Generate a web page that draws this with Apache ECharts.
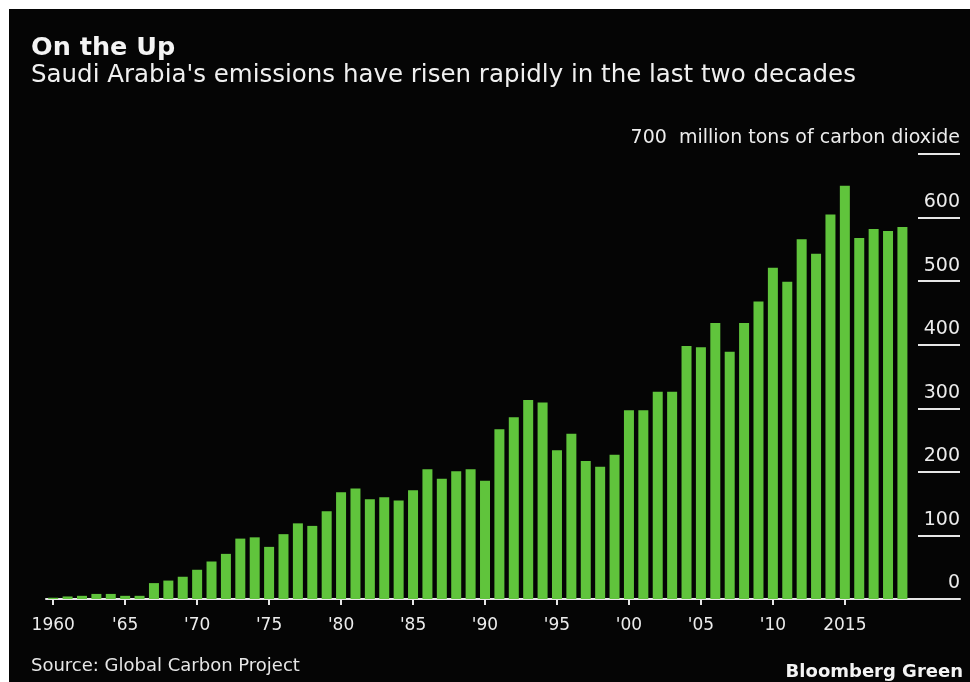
<!DOCTYPE html>
<html>
<head>
<meta charset="utf-8">
<script src="https://cdn.jsdelivr.net/npm/echarts@6/dist/echarts.min.js"></script>
<style>
  html, body { margin: 0; padding: 0; background: #ffffff; width: 970px; height: 682px; overflow: hidden; }
  #chart { position: absolute; left: 9px; top: 9px; width: 961px; height: 673px; background: #050505; }
</style>
</head>
<body>
<div id="chart"></div>
<script>
// ---- data ----
var years = [1960,1961,1962,1963,1964,1965,1966,1967,1968,1969,
             1970,1971,1972,1973,1974,1975,1976,1977,1978,1979,
             1980,1981,1982,1983,1984,1985,1986,1987,1988,1989,
             1990,1991,1992,1993,1994,1995,1996,1997,1998,1999,
             2000,2001,2002,2003,2004,2005,2006,2007,2008,2009,
             2010,2011,2012,2013,2014,2015,2016,2017,2018,2019];
var emissions = [2,4,5,8,8,5,5,25,29,35,
                 46,59,71,95,97,82,102,119,115,138,
                 168,174,157,160,155,171,204,189,201,204,
                 186,267,286,313,309,234,260,217,208,227,
                 297,297,326,326,398,396,434,389,434,468,
                 521,499,566,543,605,650,568,582,579,585];
var xTickYears  = [1960,1965,1970,1975,1980,1985,1990,1995,2000,2005,2010,2015];
var xTickLabels = ['1960',"'65","'70","'75","'80","'85","'90","'95","'00","'05","'10",'2015'];
var yTicks = [0,100,200,300,400,500,600,700];
var unitLabel = 'million tons of carbon dioxide';
var titleText = 'On the Up';
var subtitleText = "Saudi Arabia's emissions have risen rapidly in the last two decades";
var sourceText = 'Source: Global Carbon Project';
var brandText = 'Bloomberg Green';

// ---- chart ----
var FONT = 'DejaVu Sans';
var chart = echarts.init(document.getElementById('chart'), null, { renderer: 'canvas' });
var barData = years.map(function (y, i) { return [y, emissions[i]]; });

chart.setOption({
  backgroundColor: '#050505',
  animation: false,
  textStyle: { fontFamily: FONT },
  grid: [
    { left: 37, right: 10, top: 145, bottom: 83, containLabel: false },
    { left: 909, right: 10, top: 145, bottom: 83, containLabel: false }
  ],
  xAxis: [
    {
      type: 'value', gridIndex: 0, min: 1959.5, max: 2023,
      axisLine: { show: true, lineStyle: { color: '#e6e6e6', width: 2 } },
      axisTick: { show: true, customValues: xTickYears, length: 6, lineStyle: { color: '#e6e6e6', width: 2 } },
      axisLabel: {
        show: true, customValues: xTickYears, margin: 18,
        color: '#ececec', fontSize: 17, fontFamily: FONT,
        formatter: function (v) { var i = xTickYears.indexOf(Math.round(v)); return i >= 0 ? xTickLabels[i] : ''; }
      },
      splitLine: { show: false }
    },
    { type: 'value', gridIndex: 1, min: 0, max: 1, show: false }
  ],
  yAxis: [
    { type: 'value', gridIndex: 0, min: 0, max: 700, interval: 100, show: false },
    {
      type: 'value', gridIndex: 1, min: 0, max: 700, interval: 100, position: 'right',
      axisLine: { show: false }, axisTick: { show: false },
      splitLine: { show: true, lineStyle: { color: '#e6e6e6', width: 2 } },
      axisLabel: {
        show: true, inside: true, margin: 0, color: '#ececec', fontSize: 19, fontFamily: FONT,
        align: 'right', verticalAlign: 'bottom', padding: [0, 0, 6, 0],
        formatter: function (v) { return v === 700 ? v + '  ' + unitLabel : String(v); }
      }
    }
  ],
  series: [{
    type: 'bar', xAxisIndex: 0, yAxisIndex: 0,
    data: barData, barWidth: 10,
    itemStyle: { color: '#60c43c' }
  }],
  graphic: [
    { type: 'text', x: 22, y: 39, style: { text: titleText, fill: '#f4f4f4', fontFamily: FONT, fontWeight: 'bold', fontSize: 25.5, textVerticalAlign: 'middle' } },
    { type: 'text', x: 22, y: 67, style: { text: subtitleText, fill: '#f0f0f0', fontFamily: FONT, fontSize: 24.5, textVerticalAlign: 'middle' } },
    { type: 'text', x: 22, y: 657, style: { text: sourceText, fill: '#e6e6e6', fontFamily: FONT, fontSize: 18, textVerticalAlign: 'middle' } },
    { type: 'text', x: 954, y: 663, style: { text: brandText, fill: '#f4f4f4', fontFamily: FONT, fontWeight: 'bold', fontSize: 18, textAlign: 'right', textVerticalAlign: 'middle' } }
  ]
});
</script>
</body>
</html>
